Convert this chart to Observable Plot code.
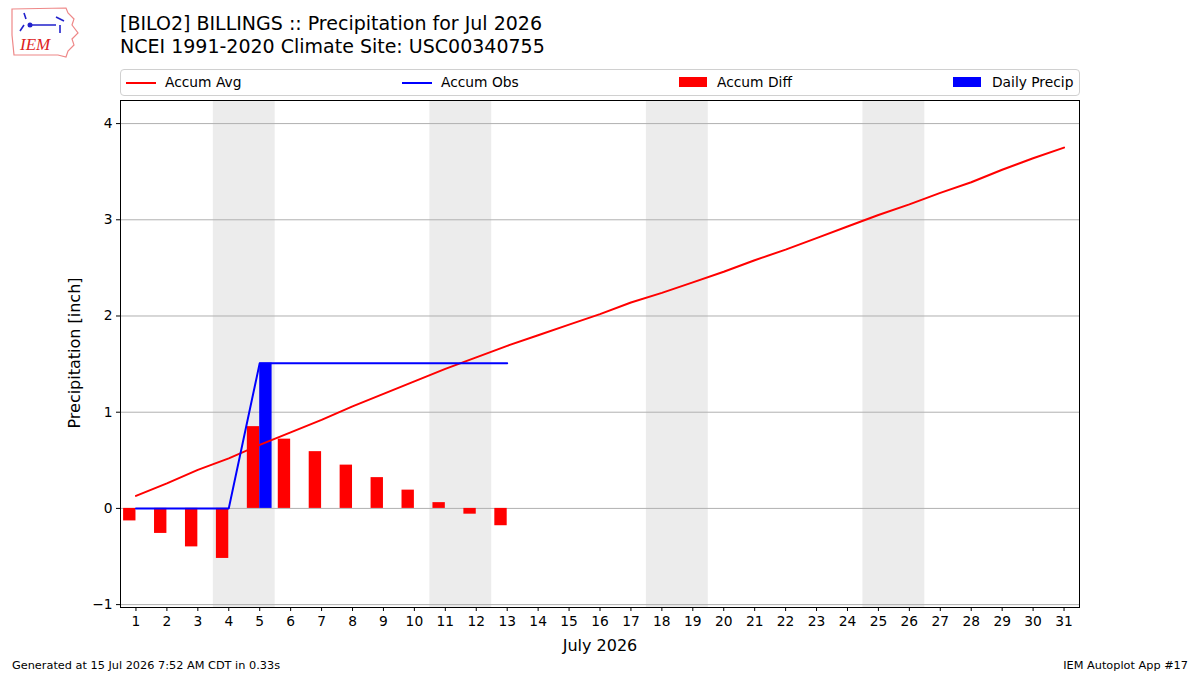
<!DOCTYPE html>
<html>
<head>
<meta charset="utf-8">
<script src="https://cdn.jsdelivr.net/npm/d3@7"></script>
<script src="https://cdn.jsdelivr.net/npm/@observablehq/plot@0.6"></script>
<style>
  html, body { margin: 0; padding: 0; background: #fff; }
  body { width: 1200px; height: 675px; position: relative; overflow: hidden; font-family: "DejaVu Sans", sans-serif; color: #000; }
  .abs { position: absolute; white-space: nowrap; }
  #title { left: 120px; top: 12px; font-size: 19px; line-height: 23px; }
  #legend { left: 120px; top: 69px; width: 958px; height: 25px; border: 1px solid #d0d0d0; border-radius: 4px; }
  .li { position: absolute; top: 0; height: 25px; line-height: 25px; font-size: 13.8px; }
  .sw-line { position: absolute; top: 12px; width: 30px; height: 2px; }
  .sw-rect { position: absolute; top: 7px; width: 28px; height: 10px; }
  #plot { left: -1px; top: 90px; }
  #ylab { left: 74px; top: 353px; font-size: 16px; transform: translate(-50%, -50%) rotate(-90deg); }
  #xlab { left: 600px; top: 645px; font-size: 16px; transform: translate(-50%, -50%); }
  #foot1 { left: 12px; top: 659px; font-size: 11.3px; }
  #foot2 { right: 12px; top: 659px; font-size: 11.3px; }
</style>
</head>
<body>
<div id="logo" class="abs" style="left:8px;top:5px;">
  <svg width="72" height="54" viewBox="0 0 72 54">
    <path d="M4,4 L58,3 L60,8 L66,14 L64,20 L70,28 L64,34 L66,40 L60,46 L58,52 L50,50 L6,50 L4,30 Z" fill="none" stroke="#e88" stroke-width="1.2"/>
    <path d="M16,8 L18,14 M22,20 L48,20 M48,12 L56,16 M52,20 L52,28 M16,20 L12,26" stroke="#22c" stroke-width="1.6" fill="none"/>
    <circle cx="22" cy="20" r="2.5" fill="#22c"/>
    <text x="12" y="45" font-family="Liberation Serif, serif" font-style="italic" font-size="17" fill="#d22">IEM</text>
  </svg>
</div>
<div id="title" class="abs">[BILO2] BILLINGS :: Precipitation for Jul 2026<br>NCEI 1991-2020 Climate Site: USC00340755</div>
<div id="legend" class="abs">
  <div class="li" style="left:5px;"><div class="sw-line" style="left:0;background:#ff0000;"></div><span style="position:absolute;left:39px;">Accum Avg</span></div>
  <div class="li" style="left:281px;"><div class="sw-line" style="left:0;background:#0000ff;"></div><span style="position:absolute;left:39px;">Accum Obs</span></div>
  <div class="li" style="left:558px;"><div class="sw-rect" style="left:0;background:#ff0000;"></div><span style="position:absolute;left:38px;">Accum Diff</span></div>
  <div class="li" style="left:832px;"><div class="sw-rect" style="left:0;background:#0000ff;"></div><span style="position:absolute;left:39px;">Daily Precip</span></div>
</div>
<div id="plot" class="abs"></div>
<div id="ylab" class="abs">Precipitation [inch]</div>
<div id="xlab" class="abs">July 2026</div>
<div id="foot1" class="abs">Generated at 15 Jul 2026 7:52 AM CDT in 0.33s</div>
<div id="foot2" class="abs">IEM Autoplot App #17</div>
<script>
// ---- data ----
const days = d3.range(1, 32);
const accumAvg = [0.13, 0.26, 0.40, 0.52, 0.66, 0.79, 0.92, 1.06, 1.19, 1.32, 1.45, 1.57, 1.69,
                  1.80, 1.91, 2.02, 2.14, 2.24, 2.35, 2.46, 2.58, 2.69, 2.81, 2.93, 3.05, 3.16,
                  3.28, 3.39, 3.52, 3.64, 3.75];
const obsDays = [1, 2, 3, 4, 5, 6, 7, 8, 9, 10, 11, 12, 13];
const accumObs = [0, 0, 0, 0, 1.51, 1.51, 1.51, 1.51, 1.51, 1.51, 1.51, 1.51, 1.51];
const dailyPrecip = [0, 0, 0, 0, 1.51, 0, 0, 0, 0, 0, 0, 0, 0];
const accumDiff = [-0.13, -0.26, -0.40, -0.52, 0.85, 0.72, 0.59, 0.45, 0.32, 0.19, 0.06, -0.06, -0.18];
const weekendStarts = [4, 11, 18, 25]; // Saturdays of Jul 2026
const yTicks = [-1, 0, 1, 2, 3, 4];

const avgData = days.map((d, i) => ({day: d, v: accumAvg[i]}));
const obsData = obsDays.map((d, i) => ({day: d, obs: accumObs[i], daily: dailyPrecip[i], diff: accumDiff[i]}));
const weekends = weekendStarts.map(d => ({day: d}));

const chart = Plot.plot({
  width: 1200,
  height: 570,
  marginLeft: 121,
  marginRight: 120,
  marginTop: 10,
  marginBottom: 53,
  style: {fontFamily: "DejaVu Sans, sans-serif", fontSize: "13px", color: "#000", background: "transparent"},
  x: {type: "linear", domain: [0.5, 31.5]},
  y: {type: "linear", domain: [-1.03, 4.24]},
  marks: [
    Plot.rect(weekends, {x1: d => d.day - 0.5, x2: d => d.day + 1.5, y1: -1.03, y2: 4.24, fill: "#ececec"}),
    Plot.gridY(yTicks, {stroke: "#b0b0b0", strokeOpacity: 1, strokeWidth: 1}),
    Plot.rectY(obsData, {x1: d => d.day - 0.4, x2: d => d.day, y1: 0, y2: "diff", fill: "#ff0000"}),
    Plot.rectY(obsData.filter(d => d.daily > 0), {x1: d => d.day, x2: d => d.day + 0.4, y1: 0, y2: "daily", fill: "#0000ff"}),
    Plot.line(avgData, {x: "day", y: "v", stroke: "#ff0000", strokeWidth: 2}),
    Plot.line(obsData, {x: "day", y: "obs", stroke: "#0000ff", strokeWidth: 2}),
    Plot.frame({stroke: "#000", strokeWidth: 1}),
    Plot.axisY({ticks: yTicks, tickFormat: d => (d < 0 ? "\u2212" : "") + Math.abs(d), tickSize: 4, tickPadding: 4, label: null, fontSize: 13.8}),
    Plot.axisX({ticks: days, tickFormat: d => String(d), tickSize: 4, tickPadding: 5, label: null, fontSize: 13.8})
  ]
});
document.getElementById("plot").appendChild(chart);
</script>
</body>
</html>
